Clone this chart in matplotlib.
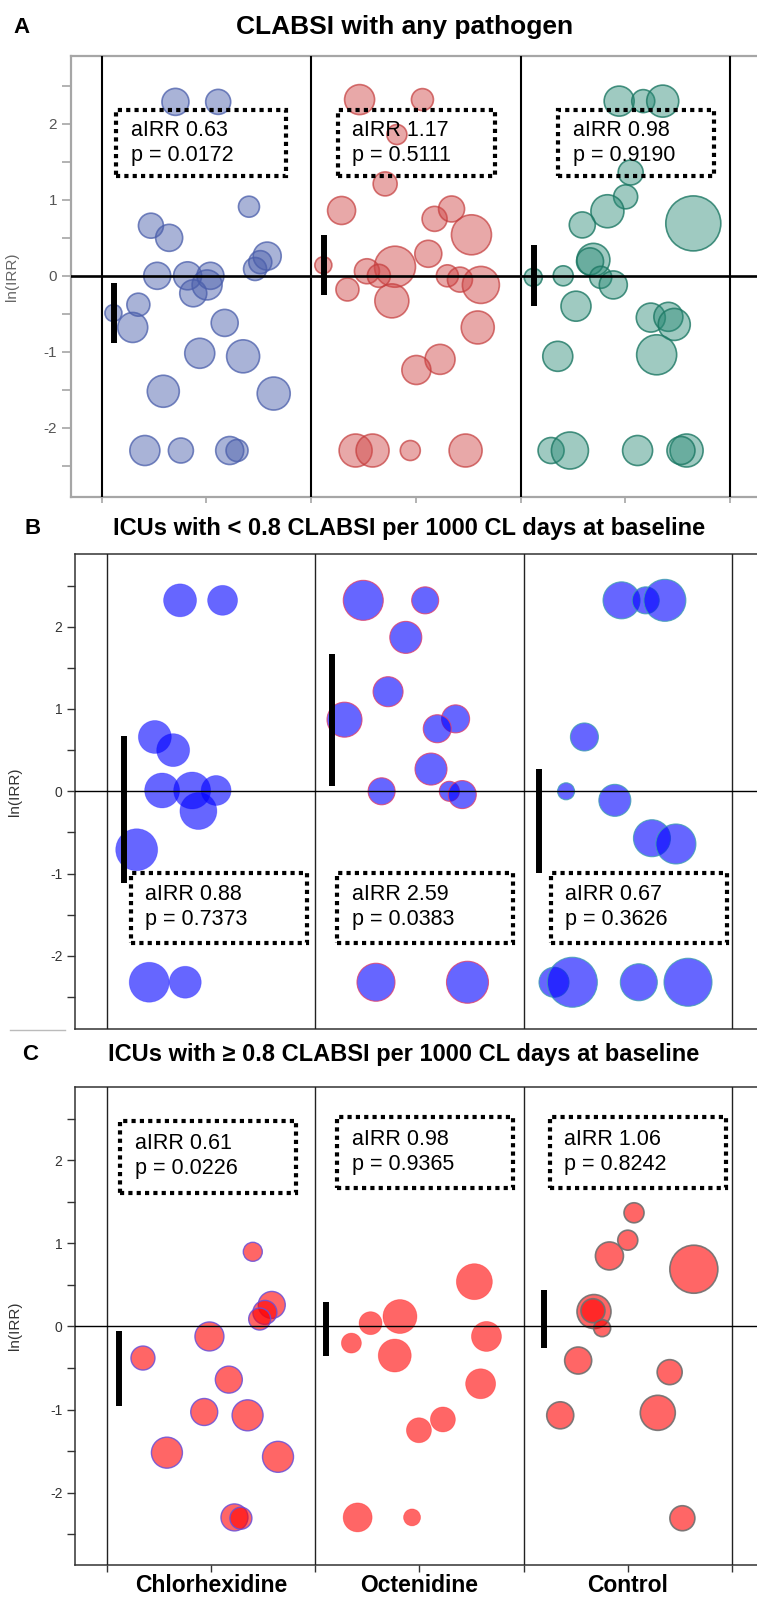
import numpy as np
import matplotlib
matplotlib.use('Agg')
import matplotlib.pyplot as plt
from matplotlib.colors import to_rgba
from matplotlib.patches import Rectangle
from matplotlib.lines import Line2D

plt.rcParams['font.family'] = ['Liberation Sans', 'DejaVu Sans']
plt.rcParams['axes.unicode_minus'] = False

arms = ['Chlorhexidine', 'Octenidine', 'Control']
yticks = [-2.5, -2, -1.5, -1, -0.5, 0, 0.5, 1, 1.5, 2, 2.5]
ytick_labels = ['', '-2', '', '-1', '', '0', '', '1', '', '2', '']

# x = position inside the arm column (0..1), y = ln(IRR), d = bubble diameter (px)
# ---- A: CLABSI with any pathogen ----
a_chx_x = [0.352, 0.556, 0.703, 0.235, 0.322, 0.265, 0.410, 0.519, 0.437, 0.503, 0.790, 0.757, 0.732,
           0.056, 0.175, 0.148, 0.587, 0.468, 0.675, 0.294, 0.821, 0.206, 0.378, 0.611, 0.646]
a_chx_y = [2.29, 2.29, 0.91, 0.66, 0.50, 0.0, 0.0, 0.0, -0.23, -0.12, 0.26, 0.18, 0.09,
           -0.49, -0.38, -0.68, -0.62, -1.02, -1.06, -1.52, -1.55, -2.30, -2.30, -2.30, -2.30]
a_chx_d = [27, 25, 21, 25, 27, 27, 28, 27, 27, 30, 28, 23, 23,
           17, 23, 30, 27, 30, 33, 32, 33, 30, 25, 28, 22]

a_oct_x = [0.231, 0.531, 0.409, 0.353, 0.145, 0.589, 0.670, 0.765, 0.559, 0.400, 0.058, 0.266, 0.323,
           0.173, 0.385, 0.650, 0.710, 0.810, 0.795, 0.615, 0.502, 0.212, 0.293, 0.473, 0.737]
a_oct_y = [2.32, 2.32, 1.86, 1.21, 0.86, 0.75, 0.88, 0.54, 0.29, 0.12, 0.14, 0.06, 0.0,
           -0.18, -0.33, 0.0, -0.05, -0.12, -0.68, -1.10, -1.24, -2.30, -2.30, -2.30, -2.30]
a_oct_d = [30, 22, 20, 24, 28, 25, 26, 40, 27, 41, 17, 25, 23,
           23, 34, 22, 25, 37, 33, 30, 29, 33, 33, 20, 33]

a_ctl_x = [0.470, 0.585, 0.678, 0.525, 0.501, 0.414, 0.294, 0.824, 0.347, 0.331, 0.382, 0.442, 0.203,
           0.060, 0.264, 0.621, 0.705, 0.733, 0.177, 0.649, 0.145, 0.235, 0.558, 0.792, 0.765]
a_ctl_y = [2.30, 2.30, 2.30, 1.36, 1.04, 0.85, 0.67, 0.69, 0.21, 0.19, -0.02, -0.12, 0.0,
           -0.02, -0.40, -0.55, -0.54, -0.64, -1.06, -1.04, -2.30, -2.30, -2.30, -2.30, -2.30]
a_ctl_d = [30, 23, 32, 25, 24, 33, 26, 55, 33, 27, 22, 28, 20,
           18, 30, 29, 29, 32, 30, 40, 26, 37, 30, 33, 28]

a_ci_x = [0.059, 0.059, 0.063]
a_ci_lo = [-0.88, -0.25, -0.40]
a_ci_hi = [-0.09, 0.54, 0.41]
a_airr = ['0.63', '1.17', '0.98']
a_p = ['0.0172', '0.5111', '0.9190']

# ---- B: ICUs with < 0.8 CLABSI per 1000 CL days at baseline ----
b_chx_x = [0.352, 0.556, 0.231, 0.319, 0.266, 0.410, 0.525, 0.440, 0.144, 0.204, 0.377]
b_chx_y = [2.32, 2.32, 0.66, 0.50, 0.01, 0.01, 0.01, -0.24, -0.71, -2.32, -2.32]
b_chx_d = [33, 30, 33, 33, 35, 37, 30, 37, 42, 40, 32]

b_oct_x = [0.231, 0.528, 0.435, 0.350, 0.141, 0.674, 0.586, 0.556, 0.319, 0.644, 0.706, 0.292, 0.731]
b_oct_y = [2.32, 2.32, 1.87, 1.21, 0.87, 0.88, 0.76, 0.27, 0.0, 0.0, -0.04, -2.32, -2.32]
b_oct_d = [40, 27, 32, 30, 35, 28, 28, 32, 27, 20, 28, 38, 42]

b_ctl_x = [0.470, 0.586, 0.678, 0.292, 0.204, 0.438, 0.616, 0.731, 0.146, 0.234, 0.553, 0.789]
b_ctl_y = [2.32, 2.32, 2.32, 0.66, 0.0, -0.11, -0.57, -0.64, -2.32, -2.32, -2.32, -2.32]
b_ctl_d = [37, 27, 42, 28, 17, 32, 37, 40, 30, 50, 37, 48]

b_ci_x = [0.081, 0.079, 0.072]
b_ci_lo = [-1.12, 0.06, -0.99]
b_ci_hi = [0.67, 1.67, 0.27]
b_airr = ['0.88', '2.59', '0.67']
b_p = ['0.7373', '0.0383', '0.3626']

# ---- C: ICUs with >= 0.8 CLABSI per 1000 CL days at baseline ----
c_chx_x = [0.701, 0.792, 0.759, 0.734, 0.493, 0.174, 0.586, 0.468, 0.676, 0.289, 0.822, 0.613, 0.644]
c_chx_y = [0.90, 0.26, 0.17, 0.09, -0.12, -0.38, -0.64, -1.03, -1.07, -1.52, -1.57, -2.30, -2.31]
c_chx_d = [19, 27, 24, 22, 29, 24, 27, 27, 31, 31, 31, 27, 22]

c_oct_x = [0.764, 0.407, 0.266, 0.174, 0.382, 0.822, 0.794, 0.613, 0.498, 0.204, 0.465]
c_oct_y = [0.54, 0.12, 0.04, -0.20, -0.35, -0.12, -0.69, -1.12, -1.25, -2.30, -2.30]
c_oct_d = [36, 34, 23, 20, 33, 30, 30, 25, 25, 29, 17]

c_ctl_x = [0.530, 0.500, 0.412, 0.817, 0.338, 0.333, 0.377, 0.262, 0.701, 0.176, 0.644, 0.762]
c_ctl_y = [1.37, 1.04, 0.85, 0.69, 0.18, 0.19, -0.02, -0.41, -0.55, -1.07, -1.04, -2.31]
c_ctl_d = [20, 20, 28, 48, 34, 24, 17, 27, 25, 27, 35, 25]

c_ci_x = [0.058, 0.053, 0.100]
c_ci_lo = [-0.96, -0.36, -0.26]
c_ci_hi = [-0.05, 0.29, 0.44]
c_airr = ['0.61', '0.98', '1.06']
c_p = ['0.0226', '0.9365', '0.8242']

W, H = 757, 1598
fig = plt.figure(figsize=(W / 100, H / 100), dpi=100)


def make_axes(left, top, bottom, xlim, ylim):
    ax = fig.add_axes([left / W, 1 - bottom / H, 1 - left / W, (bottom - top) / H])
    ax.set_xlim(*xlim)
    ax.set_ylim(*ylim)
    return ax


def bubbles(ax, arm, xs, ys, ds, face, fa, edge, ea, lw):
    ax.scatter(np.add(xs, arm), ys, s=(0.72 * np.array(ds)) ** 2,
               facecolors=[to_rgba(face, fa)], edgecolors=[to_rgba(edge, ea)],
               linewidths=lw, zorder=2)


def decorate(ax, ci_x, ci_lo, ci_hi, airr, pv, boxes, line_col, spine_col, spine_lw, sep_lw, zero_lw):
    for k in range(4):
        ax.axvline(k, color=line_col, lw=sep_lw, zorder=3)
    ax.axhline(0, color='black', lw=zero_lw, zorder=3)
    for i in range(3):
        ax.plot([i + ci_x[i]] * 2, [ci_lo[i], ci_hi[i]], color='black', lw=4.3,
                solid_capstyle='butt', zorder=4)
        x0, y0, x1, y1 = boxes[i]
        ax.add_patch(Rectangle((x0, y0), x1 - x0, y1 - y0, fill=False, ec='black', lw=3,
                               ls=(0, (1, 1)), zorder=6))
        ax.text(x0 + 0.07, (y0 + y1) / 2 + 0.01, f'aIRR {airr[i]}\np = {pv[i]}', fontsize=15.5,
                ha='left', va='center', linespacing=1.25, zorder=7)
    for side in ['left', 'top', 'bottom']:
        ax.spines[side].set_color(spine_col)
        ax.spines[side].set_linewidth(spine_lw)
    ax.spines['right'].set_visible(False)
    ax.set_yticks(yticks)
    ax.set_yticklabels(ytick_labels)


# ---------------- panel A ----------------
axA = make_axes(70.7, 56, 497.3, (-0.148, 3.128), (-2.916, 2.894))
bubbles(axA, 0, a_chx_x, a_chx_y, a_chx_d, '#4a5eab', 0.47, '#4a5eab', 0.75, 1.2)
bubbles(axA, 1, a_oct_x, a_oct_y, a_oct_d, '#cf4646', 0.47, '#c43c3c', 0.7, 1.2)
bubbles(axA, 2, a_ctl_x, a_ctl_y, a_ctl_d, '#2b8a76', 0.45, '#1d7864', 0.8, 1.2)
decorate(axA, a_ci_x, a_ci_lo, a_ci_hi, a_airr, a_p,
         [(0.068, 1.31, 0.881, 2.18), (1.127, 1.31, 1.878, 2.18), (2.18, 1.31, 2.924, 2.18)],
         'black', '#a6a6a6', 1.6, 1.5, 1.9)
axA.tick_params(axis='y', length=6.3, width=1.2, color='#a6a6a6', labelcolor='#555555',
                labelsize=11, pad=3.5)
axA.set_xticks(np.arange(0, 3.01, 0.5))
axA.set_xticklabels([])
axA.tick_params(axis='x', length=4.5, width=1.2, color='#a6a6a6')
axA.set_ylabel('ln(IRR)', fontsize=11, color='#666666')
axA.yaxis.set_label_coords(-0.075, 0.5)

# ---------------- panel B ----------------
axB = make_axes(75, 554, 1029, (-0.152, 3.12), (-2.888, 2.883))
bubbles(axB, 0, b_chx_x, b_chx_y, b_chx_d, '#0000ff', 0.6, '#0000ff', 0.25, 0.6)
bubbles(axB, 1, b_oct_x, b_oct_y, b_oct_d, '#0000ff', 0.6, '#e0406a', 0.8, 0.8)
bubbles(axB, 2, b_ctl_x, b_ctl_y, b_ctl_d, '#0000ff', 0.6, '#3fa0b0', 0.8, 0.8)
decorate(axB, b_ci_x, b_ci_lo, b_ci_hi, b_airr, b_p,
         [(0.116, -1.84, 0.961, -0.99), (1.106, -1.84, 1.951, -0.99), (2.13, -1.84, 2.975, -0.99)],
         '#222222', '#333333', 1.1, 1.0, 1.0)
axB.tick_params(axis='y', length=5.5, width=1.0, color='#333333', labelcolor='#333333',
                labelsize=10, pad=3.5)
axB.set_xticks([])
axB.set_ylabel('ln(IRR)', fontsize=11, color='#333333')
axB.yaxis.set_label_coords(-0.078, 0.5)

# ---------------- panel C ----------------
axC = make_axes(75, 1086.7, 1565.3, (-0.152, 3.12), (-2.877, 2.889))
bubbles(axC, 0, c_chx_x, c_chx_y, c_chx_d, '#ff0000', 0.6, '#6a50d8', 0.85, 1.0)
bubbles(axC, 1, c_oct_x, c_oct_y, c_oct_d, '#ff0000', 0.6, '#ff0000', 0.3, 0.6)
bubbles(axC, 2, c_ctl_x, c_ctl_y, c_ctl_d, '#ff0000', 0.6, '#707070', 0.9, 1.2)
decorate(axC, c_ci_x, c_ci_lo, c_ci_hi, c_airr, c_p,
         [(0.065, 1.61, 0.91, 2.47), (1.106, 1.67, 1.951, 2.52), (2.125, 1.67, 2.97, 2.52)],
         '#222222', '#333333', 1.1, 1.0, 1.0)
axC.tick_params(axis='y', length=5.5, width=1.0, color='#333333', labelcolor='#333333',
                labelsize=10, pad=3.5)
axC.set_xticks(np.arange(0, 3.01, 0.5))
axC.set_xticklabels(['', arms[0], '', arms[1], '', arms[2], ''], fontsize=16.5, fontweight='bold')
axC.tick_params(axis='x', length=4.8, width=1.0, color='#333333', pad=1.5)
axC.set_ylabel('ln(IRR)', fontsize=11, color='#333333')
axC.yaxis.set_label_coords(-0.078, 0.5)

# panel letters and titles
fig.text(21 / W, 1 - 27.5 / H, 'A', fontsize=16, fontweight='bold', ha='center', va='center')
fig.text(405 / W, 1 - 27 / H, 'CLABSI with any pathogen', fontsize=19, fontweight='bold',
         ha='center', va='center')
fig.text(33 / W, 1 - 529 / H, 'B', fontsize=16, fontweight='bold', ha='center', va='center')
fig.text(113 / W, 1 - 529 / H, 'ICUs with < 0.8 CLABSI per 1000 CL days at baseline', fontsize=17,
         fontweight='bold', ha='left', va='center')
fig.text(30.5 / W, 1 - 1054 / H, 'C', fontsize=16, fontweight='bold', ha='center', va='center')
fig.text(108 / W, 1 - 1054 / H, 'ICUs with \u2265 0.8 CLABSI per 1000 CL days at baseline', fontsize=17,
         fontweight='bold', ha='left', va='center')
fig.add_artist(Line2D([10 / W, 65 / W], [1 - 1030 / H] * 2, color='#bbbbbb', lw=1))

fig.savefig('out.png', dpi=100)
